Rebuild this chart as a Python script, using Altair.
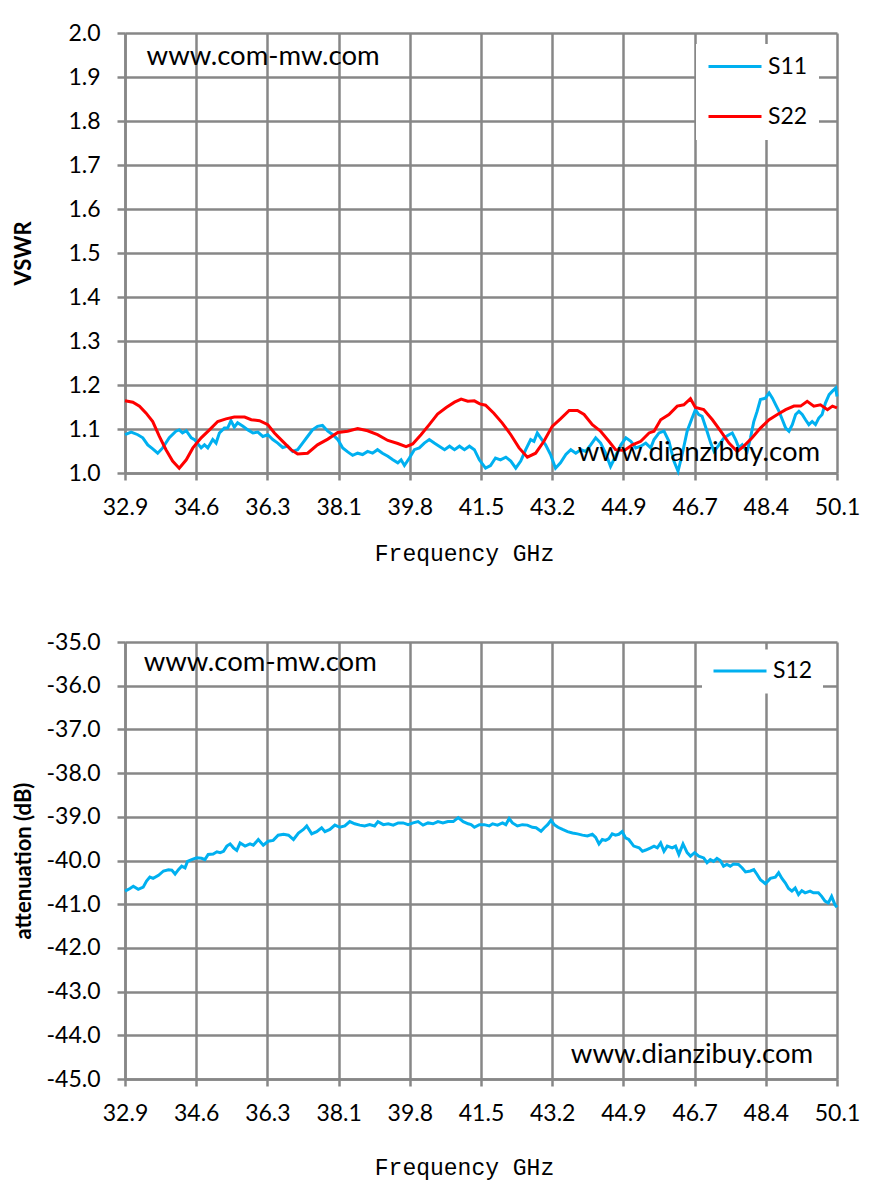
import altair as alt
import pandas as pd

# ---------------- data ----------------
S11_f = [32.9, 33.05, 33.21, 33.33, 33.45, 33.57, 33.69, 33.81, 33.97, 34.13, 34.21, 34.29, 34.38, 34.5, 34.58,
         34.74, 34.82, 34.9, 35.02, 35.1, 35.18, 35.3, 35.38, 35.46, 35.54, 35.62, 35.75, 35.87, 35.99, 36.11,
         36.23, 36.35, 36.47, 36.59, 36.71, 36.83, 36.95, 37.07, 37.19, 37.31, 37.43, 37.55, 37.67, 37.8, 37.92,
         38.04, 38.16, 38.28, 38.4, 38.52, 38.64, 38.76, 38.88, 39.0, 39.12, 39.25, 39.37, 39.49, 39.57, 39.65,
         39.77, 39.89, 40.01, 40.13, 40.25, 40.37, 40.49, 40.62, 40.74, 40.86, 40.98, 41.1, 41.22, 41.34, 41.46,
         41.61, 41.73, 41.85, 41.97, 42.1, 42.22, 42.34, 42.46, 42.58, 42.7, 42.78, 42.86, 42.94, 43.06, 43.18,
         43.3, 43.42, 43.55, 43.67, 43.79, 43.91, 44.03, 44.15, 44.27, 44.39, 44.51, 44.63, 44.75, 44.88, 45.0,
         45.12, 45.24, 45.36, 45.48, 45.6, 45.68, 45.8, 45.92, 46.04, 46.16, 46.26, 46.36, 46.48, 46.6, 46.68,
         46.76, 46.84, 46.96, 47.05, 47.13, 47.25, 47.37, 47.49, 47.57, 47.65, 47.73, 47.81, 47.93, 48.01, 48.09,
         48.17, 48.25, 48.37, 48.46, 48.54, 48.62, 48.7, 48.78, 48.86, 48.94, 49.02, 49.1, 49.18, 49.26, 49.34,
         49.42, 49.5, 49.58, 49.66, 49.74, 49.82, 49.91, 49.99, 50.07, 50.1]
S11_v = [1.087, 1.093, 1.087, 1.080, 1.064, 1.055, 1.045, 1.057, 1.080, 1.095, 1.098, 1.091, 1.096, 1.080, 1.076,
         1.057, 1.064, 1.057, 1.076, 1.068, 1.091, 1.102, 1.102, 1.119, 1.104, 1.114, 1.106, 1.098, 1.091, 1.093,
         1.083, 1.087, 1.076, 1.068, 1.058, 1.061, 1.049, 1.053, 1.068, 1.083, 1.098, 1.106, 1.108, 1.095, 1.087,
         1.076, 1.057, 1.048, 1.040, 1.045, 1.042, 1.049, 1.045, 1.053, 1.045, 1.038, 1.030, 1.023, 1.030, 1.017,
         1.034, 1.053, 1.057, 1.068, 1.076, 1.068, 1.061, 1.053, 1.061, 1.053, 1.061, 1.053, 1.061, 1.053, 1.030,
         1.011, 1.017, 1.034, 1.030, 1.036, 1.027, 1.011, 1.027, 1.053, 1.076, 1.072, 1.091, 1.080, 1.064, 1.042,
         1.011, 1.023, 1.042, 1.053, 1.045, 1.053, 1.049, 1.064, 1.080, 1.068, 1.045, 1.015, 1.038, 1.064, 1.080,
         1.072, 1.057, 1.061, 1.068, 1.057, 1.076, 1.091, 1.095, 1.072, 1.027, 1.004, 1.042, 1.095, 1.125, 1.144,
         1.133, 1.129, 1.095, 1.068, 1.049, 1.064, 1.080, 1.087, 1.091, 1.076, 1.057, 1.064, 1.049, 1.080, 1.117,
         1.140, 1.167, 1.170, 1.182, 1.170, 1.155, 1.140, 1.121, 1.102, 1.095, 1.110, 1.133, 1.140, 1.133, 1.121,
         1.110, 1.117, 1.110, 1.125, 1.133, 1.159, 1.178, 1.186, 1.193, 1.174]

S22_f = [32.9, 33.09, 33.25, 33.41, 33.57, 33.73, 33.89, 34.05, 34.21, 34.38, 34.54, 34.74, 34.94, 35.14, 35.34,
         35.54, 35.79, 35.95, 36.15, 36.35, 36.51, 36.71, 36.91, 37.07, 37.31, 37.55, 37.8, 38.04, 38.28, 38.52,
         38.76, 39.0, 39.25, 39.49, 39.69, 39.85, 40.05, 40.25, 40.45, 40.66, 40.86, 41.02, 41.18, 41.34, 41.47,
         41.61, 41.81, 42.01, 42.22, 42.42, 42.62, 42.82, 43.02, 43.22, 43.42, 43.63, 43.83, 43.99, 44.19, 44.39,
         44.59, 44.75, 44.96, 45.16, 45.36, 45.56, 45.68, 45.84, 46.04, 46.24, 46.4, 46.56, 46.68, 46.88, 47.09,
         47.29, 47.49, 47.69, 47.85, 48.05, 48.25, 48.46, 48.66, 48.86, 49.06, 49.22, 49.38, 49.54, 49.7, 49.87,
         49.99, 50.1]
S22_v = [1.164, 1.161, 1.152, 1.136, 1.117, 1.083, 1.053, 1.027, 1.011, 1.030, 1.057, 1.080, 1.098, 1.117, 1.123,
         1.127, 1.127, 1.121, 1.119, 1.110, 1.091, 1.072, 1.053, 1.043, 1.045, 1.064, 1.077, 1.092, 1.095, 1.101,
         1.096, 1.087, 1.074, 1.067, 1.060, 1.066, 1.087, 1.110, 1.134, 1.149, 1.161, 1.168, 1.163, 1.164, 1.157,
         1.154, 1.136, 1.114, 1.087, 1.057, 1.036, 1.045, 1.072, 1.106, 1.123, 1.142, 1.142, 1.133, 1.110, 1.095,
         1.072, 1.053, 1.051, 1.064, 1.072, 1.091, 1.095, 1.121, 1.133, 1.152, 1.155, 1.169, 1.149, 1.144, 1.121,
         1.095, 1.068, 1.049, 1.061, 1.080, 1.102, 1.121, 1.133, 1.144, 1.152, 1.152, 1.163, 1.152, 1.155, 1.144,
         1.152, 1.148]

S12_f = [32.9, 33.02, 33.1, 33.22, 33.34, 33.42, 33.5, 33.58, 33.71, 33.83, 33.95, 34.03, 34.11, 34.19, 34.27,
         34.35, 34.41, 34.51, 34.63, 34.75, 34.83, 34.91, 35.03, 35.12, 35.2, 35.28, 35.36, 35.44, 35.52, 35.6,
         35.68, 35.8, 35.92, 36.0, 36.12, 36.24, 36.36, 36.48, 36.6, 36.73, 36.85, 36.97, 37.09, 37.21, 37.29,
         37.41, 37.53, 37.65, 37.73, 37.85, 37.97, 38.09, 38.21, 38.33, 38.45, 38.57, 38.69, 38.81, 38.93, 39.01,
         39.14, 39.26, 39.38, 39.5, 39.62, 39.74, 39.86, 39.98, 40.1, 40.22, 40.34, 40.46, 40.58, 40.7, 40.83,
         40.95, 41.07, 41.19, 41.26, 41.34, 41.46, 41.58, 41.7, 41.78, 41.9, 42.02, 42.1, 42.18, 42.26, 42.38,
         42.5, 42.62, 42.74, 42.83, 42.95, 43.03, 43.11, 43.19, 43.27, 43.36, 43.47, 43.59, 43.71, 43.83, 43.95,
         44.07, 44.19, 44.27, 44.35, 44.43, 44.51, 44.59, 44.67, 44.75, 44.83, 44.91, 44.99, 45.07, 45.19, 45.32,
         45.4, 45.48, 45.6, 45.68, 45.76, 45.84, 45.92, 46.0, 46.12, 46.2, 46.28, 46.38, 46.48, 46.56, 46.66,
         46.76, 46.88, 46.96, 47.04, 47.12, 47.2, 47.28, 47.36, 47.44, 47.52, 47.6, 47.72, 47.81, 47.89, 48.01,
         48.09, 48.17, 48.25, 48.37, 48.49, 48.61, 48.69, 48.77, 48.85, 48.93, 49.01, 49.09, 49.17, 49.25, 49.33,
         49.45, 49.53, 49.65, 49.73, 49.81, 49.89, 49.97, 50.05, 50.1]
S12_v = [-40.70, -40.64, -40.59, -40.66, -40.61, -40.47, -40.38, -40.41, -40.34, -40.24, -40.21, -40.22, -40.31,
         -40.21, -40.13, -40.17, -40.02, -39.98, -39.94, -39.95, -39.98, -39.86, -39.85, -39.80, -39.82, -39.79,
         -39.67, -39.62, -39.71, -39.77, -39.60, -39.67, -39.62, -39.65, -39.52, -39.65, -39.56, -39.54, -39.42,
         -39.40, -39.42, -39.52, -39.37, -39.29, -39.21, -39.39, -39.34, -39.25, -39.34, -39.29, -39.19, -39.24,
         -39.21, -39.11, -39.16, -39.19, -39.21, -39.18, -39.21, -39.11, -39.18, -39.16, -39.19, -39.14, -39.14,
         -39.18, -39.14, -39.11, -39.19, -39.14, -39.16, -39.11, -39.14, -39.11, -39.11, -39.02, -39.11, -39.16,
         -39.18, -39.24, -39.18, -39.18, -39.21, -39.16, -39.19, -39.14, -39.18, -39.04, -39.14, -39.21, -39.18,
         -39.19, -39.24, -39.25, -39.33, -39.25, -39.18, -39.08, -39.18, -39.24, -39.29, -39.34, -39.37, -39.39,
         -39.42, -39.44, -39.40, -39.47, -39.62, -39.52, -39.54, -39.50, -39.39, -39.42, -39.40, -39.34, -39.48,
         -39.52, -39.67, -39.71, -39.79, -39.76, -39.71, -39.67, -39.71, -39.60, -39.79, -39.67, -39.71, -39.67,
         -39.86, -39.62, -39.82, -39.90, -39.82, -39.90, -39.94, -40.05, -39.98, -40.02, -39.95, -40.00, -40.13,
         -40.09, -40.13, -40.08, -40.09, -40.17, -40.26, -40.24, -40.21, -40.32, -40.44, -40.53, -40.41, -40.38,
         -40.28, -40.41, -40.51, -40.64, -40.70, -40.63, -40.78, -40.69, -40.74, -40.70, -40.74, -40.74, -40.82,
         -40.93, -40.97, -40.82, -41.01, -41.07]

x_ticks = [32.9, 34.62, 36.34, 38.06, 39.78, 41.5, 43.22, 44.94, 46.66, 48.38, 50.1]
vswr_ticks = [1.0, 1.1, 1.2, 1.3, 1.4, 1.5, 1.6, 1.7, 1.8, 1.9, 2.0]
att_ticks = [-45.0, -44.0, -43.0, -42.0, -41.0, -40.0, -39.0, -38.0, -37.0, -36.0, -35.0]
top_series = ["S11", "S22"]
top_colors = ["#00B0F0", "#FF0000"]
bottom_series = ["S12"]
bottom_colors = ["#00B0F0"]
watermark_1 = "www.com-mw.com"
watermark_2 = "www.dianzibuy.com"

# ---------------- tables ----------------
top_df = pd.concat([
    pd.DataFrame({"f": S11_f, "v": S11_v, "s": "S11"}),
    pd.DataFrame({"f": S22_f, "v": S22_v, "s": "S22"}),
], ignore_index=True)
bottom_df = pd.DataFrame({"f": S12_f, "v": S12_v, "s": "S12"})
one_row = pd.DataFrame({"k": [0]})

GRID = "#878787"
LABEL_FONT = "Lato"
W = 712
MINUS_FIX = "replace(datum.label, '\u2212', '-')"


def x_axis(title_y):
    return alt.Axis(values=x_ticks, format=".1f", title="Frequency GHz", grid=True,
                    gridColor=GRID, gridWidth=2.5, domainColor=GRID, domainWidth=2.5,
                    tickColor=GRID, tickWidth=2.5, tickSize=7, labelPadding=16,
                    labelFont=LABEL_FONT, labelFontSize=23, labelColor="black",
                    labelFlush=False, labelOverlap=False,
                    titleFont="Liberation Mono", titleFontSize=23, titleFontWeight="normal",
                    titleColor="black", titleX=339, titleY=title_y, titleAlign="center",
                    titleBaseline="alphabetic")


def y_axis(values, title, h):
    return alt.Axis(values=values, format=".1f", title=title, grid=True,
                    gridColor=GRID, gridWidth=2.5, domainColor=GRID, domainWidth=2.5,
                    tickColor=GRID, tickWidth=2.5, tickSize=8, labelPadding=17,
                    labelFont=LABEL_FONT, labelFontSize=23, labelColor="black",
                    labelFlush=False, labelOverlap=False, labelExpr=MINUS_FIX,
                    titleFont=LABEL_FONT, titleFontSize=22, titleFontWeight="bold",
                    titleColor="black", titleX=-101.5, titleY=h / 2, titleAngle=270,
                    titleAlign="center", titleBaseline="middle")


def legend(lx, ly, pad):
    return alt.Legend(title=None, orient="none", legendX=lx, legendY=ly, fillColor="white",
                      padding=pad, symbolType="M-2.65,0H2.65", symbolSize=400,
                      symbolStrokeWidth=3, symbolOffset=16.5, labelOffset=21.5, rowPadding=26,
                      labelFont=LABEL_FONT, labelFontSize=23, labelColor="black")


xscale = alt.Scale(domain=[32.9, 50.1], nice=False, zero=False)
WM_SIZE = 27.5

# ---------------- top chart ----------------
TH = 440
top_lines = alt.Chart(top_df).mark_line(strokeWidth=3).encode(
    x=alt.X("f:Q", scale=xscale, axis=x_axis(87)),
    y=alt.Y("v:Q", scale=alt.Scale(domain=[1.0, 2.0], nice=False, zero=False),
            axis=y_axis(vswr_ticks, "VSWR", TH)),
    color=alt.Color("s:N", scale=alt.Scale(domain=top_series, range=top_colors),
                    legend=legend(571, 11, 11)),
    order=alt.Order("f:Q"),
)
top_wm1 = alt.Chart(one_row).mark_text(align="left", baseline="alphabetic", font=LABEL_FONT,
                                       fontSize=WM_SIZE, color="black").encode(
    x=alt.datum(33.42), y=alt.datum(1.928), text=alt.value(watermark_1))
top_wm2 = alt.Chart(one_row).mark_text(align="left", baseline="alphabetic", font=LABEL_FONT,
                                       fontSize=WM_SIZE, color="black").encode(
    x=alt.datum(43.84), y=alt.datum(1.027), text=alt.value(watermark_2))
top = alt.layer(top_lines, top_wm1, top_wm2).properties(width=W, height=TH)

# ---------------- bottom chart ----------------
BH = 437
bot_lines = alt.Chart(bottom_df).mark_line(strokeWidth=3).encode(
    x=alt.X("f:Q", scale=xscale, axis=x_axis(95)),
    y=alt.Y("v:Q", scale=alt.Scale(domain=[-45.0, -35.0], nice=False, zero=False),
            axis=y_axis(att_ticks, "attenuation (dB)", BH)),
    color=alt.Color("s:N", scale=alt.Scale(domain=bottom_series, range=bottom_colors),
                    legend=legend(577, 7.5, 10)),
    order=alt.Order("f:Q"),
)
bot_wm1 = alt.Chart(one_row).mark_text(align="left", baseline="alphabetic", font=LABEL_FONT,
                                       fontSize=WM_SIZE, color="black").encode(
    x=alt.datum(33.35), y=alt.datum(-35.66), text=alt.value(watermark_1))
bot_wm2 = alt.Chart(one_row).mark_text(align="left", baseline="alphabetic", font=LABEL_FONT,
                                       fontSize=WM_SIZE, color="black").encode(
    x=alt.datum(43.67), y=alt.datum(-44.63), text=alt.value(watermark_2))
bottom = alt.layer(bot_lines, bot_wm1, bot_wm2).properties(width=W, height=BH)

chart = alt.vconcat(top, bottom, spacing=66).resolve_scale(
    y="independent", color="independent"
).resolve_legend(color="independent").properties(
    padding={"left": 4, "top": 14, "right": 5, "bottom": 5},
    background="white",
).configure_view(stroke=None)

chart.save("out.html", embed_options={"renderer": "svg", "actions": False})
